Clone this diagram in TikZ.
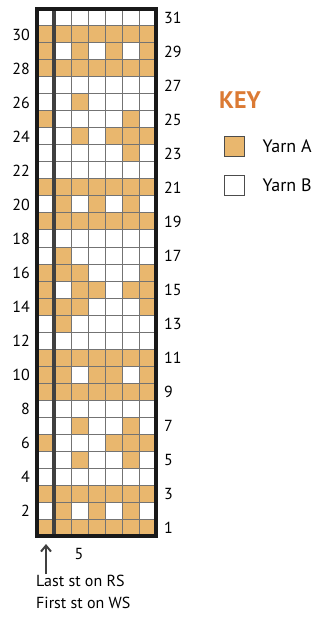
\documentclass[tikz,border=0pt]{standalone}
\usepackage{fontspec}
\setmainfont{PT Sans}
\usepackage{tikz}
\usetikzlibrary{arrows.meta,positioning}
\definecolor{yarnA}{RGB}{233,183,110}
\definecolor{keyorange}{RGB}{219,122,52}
\tikzset{num/.style={font=\fontsize{16}{18}\selectfont,inner sep=0pt},
  swatch/.style={draw=black!70,line width=0.9pt,minimum size=20pt,inner sep=0pt},
  arr/.style={-{Straight Barb[length=6pt,width=10pt]},line width=2pt,black!75}}

\begin{document}
\begin{tikzpicture}[x=1pt,y=-1pt]
\useasboundingbox (0,0) rectangle (328,617);
% yarn A cells, row/cols (row 1 at the bottom)
\foreach \r/\cols in {1/{1,2,3,4,5,6,7},2/{2,4,6},3/{1,2,3,4,5,6,7},5/{3,6},6/{1,5,6,7},7/{3,6},
  9/{1,2,3,4,5,6,7},10/{1,2,4,5,7},11/{1,2,3,4,5,6,7},13/{2},14/{1,2,3,7},15/{1,3,4,6,7},
  16/{1,2,3,7},17/{2},19/{1,2,3,4,5,6,7},20/{2,4,6},21/{1,2,3,4,5,6,7},23/{6},24/{3,5,6,7},
  25/{1,6},26/{3},28/{1,2,3,4,5,6,7},29/{1,3,5,7},30/{1,2,3,4,5,6,7}}
  \foreach \c in \cols
    \fill[yarnA] (20+17*\c,536-17*\r) rectangle ++(17,17);
% grid
\foreach \c in {1,...,6}
  \draw[black!55,line width=1pt] (37+17*\c,9) -- (37+17*\c,536);
\foreach \r in {1,...,30}
  \draw[black!55,line width=1pt] (37,536-17*\r) -- (156,536-17*\r);
\draw[black!75,line width=4pt] (54,9) -- (54,536);
\draw[black!90,line width=3.2pt] (37,9) rectangle (156,536);
% row numbers
\foreach \r in {2,4,...,30}
  \node[num,anchor=east] (l\r) at (30,527.5-17*\r+17) {\r};
\foreach \r in {1,3,...,31}
  \node[num,anchor=west] (r\r) at (164,527.5-17*\r+17) {\r};
\node[num] (s5) at (79,554) {5};
% caption under the chart
\node[num,anchor=north west,align=left,font=\fontsize{16}{22}\selectfont] (note) at (36,575)
  {Last st on RS\\First st on WS};
\coordinate (tail) at (46,574);
\coordinate (tip) at (46,544);
\draw[arr] (tail) -- (tip);
% key
\node[anchor=west,text=keyorange,font=\fontsize{24}{26}\bfseries,inner sep=0pt] (key) at (219,100) {KEY};
\node[swatch,fill=yarnA] (sa) at (234,146) {};
\node[swatch,fill=white] (sb) at (234,185) {};
\node[right=18pt of sa,font=\fontsize{18}{20}\selectfont,inner sep=0pt] (ta) {Yarn A};
\node[right=18pt of sb,font=\fontsize{18}{20}\selectfont,inner sep=0pt] (tb) {Yarn B};
\end{tikzpicture}
\end{document}
